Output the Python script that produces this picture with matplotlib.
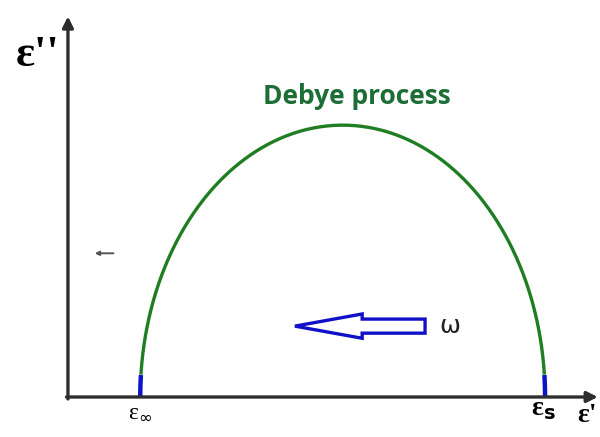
import numpy as np
import matplotlib
matplotlib.use("Agg")
import matplotlib.pyplot as plt
from matplotlib.patches import FancyArrow

# Debye relaxation parameters (arbitrary units on the eps' axis)
eps_inf = 1.0
eps_s = 6.6
omega_tau = np.logspace(-3, 3, 800)
foot_level = 0.23   # below this the curve ends are drawn in blue

# frequency arrow (points toward increasing omega)
arrow_tail = 4.94
arrow_tip = 3.14
arrow_y = 0.73

# complex permittivity of a single Debye process
eps_c = eps_inf + (eps_s - eps_inf) / (1 + 1j * omega_tau)
eps1 = eps_c.real
eps2 = -eps_c.imag

fig = plt.figure(figsize=(6, 4.37), dpi=100)
ax = fig.add_axes([0, 0, 1, 1])
ax.set_xlim(-0.94, 7.36)
ax.set_ylim(-0.412, 4.089)
ax.axis('off')

axis_clr = '#2e2e2e'
ax.annotate('', xy=(7.33, 0), xytext=(-0.02, 0),
            arrowprops=dict(arrowstyle='-|>', color=axis_clr, lw=2.4,
                            mutation_scale=16, shrinkA=0, shrinkB=0))
ax.annotate('', xy=(0, 3.92), xytext=(0, -0.02),
            arrowprops=dict(arrowstyle='-|>', color=axis_clr, lw=2.4,
                            mutation_scale=16, shrinkA=0, shrinkB=0))

# semicircle: green arc, blue feet
top = eps2 >= foot_level
ax.plot(eps1[top], eps2[top], color='#1f7d22', lw=2.4, solid_capstyle='butt')
foot_l = (eps2 < foot_level) & (eps1 < (eps_inf + eps_s) / 2)
foot_r = (eps2 < foot_level) & (eps1 > (eps_inf + eps_s) / 2)
ax.plot(eps1[foot_l], eps2[foot_l], color='#0a14c8', lw=3.2, solid_capstyle='butt')
ax.plot(eps1[foot_r], eps2[foot_r], color='#0a14c8', lw=3.2, solid_capstyle='butt')

# hollow frequency arrow
ax.add_patch(FancyArrow(arrow_tail, arrow_y, arrow_tip - arrow_tail, 0,
                        width=0.145, head_width=0.25, head_length=0.93,
                        length_includes_head=True, fill=False,
                        edgecolor='#1010c8', lw=2.4))
ax.text(arrow_tail + 0.2, arrow_y, 'ω', fontsize=18, color='#222222',
        ha='left', va='center', family='DejaVu Sans')

# small mark left of the arc
ax.annotate('', xy=(0.37, 1.48), xytext=(0.63, 1.48),
            arrowprops=dict(arrowstyle='-|>', color='#555555', lw=1.4,
                            mutation_scale=6, shrinkA=0, shrinkB=0))

ax.text((eps_inf + eps_s) / 2 + 0.2, 3.10, 'Debye process', color='#1c6e36',
        fontsize=19, fontweight='bold', family='Open Sans',
        ha='center', va='center')

serif = ['Liberation Serif', 'DejaVu Serif']
ax.text(-0.42, 3.52, "ε''", fontsize=32, fontweight='bold', family=serif,
        ha='center', va='center')
ax.text(eps_inf, -0.16, 'ε$_{\\infty}$', fontsize=17, family=serif,
        ha='center', va='center')
ax.text(eps_s - 0.02, -0.13, 'ε$_{\\mathbf{s}}$', fontsize=20,
        fontweight='bold', family=serif, ha='center', va='center')
ax.text(7.04, -0.19, "ε'", fontsize=20, fontweight='bold', family=serif,
        ha='left', va='center')

fig.savefig('out.png', dpi=100)
